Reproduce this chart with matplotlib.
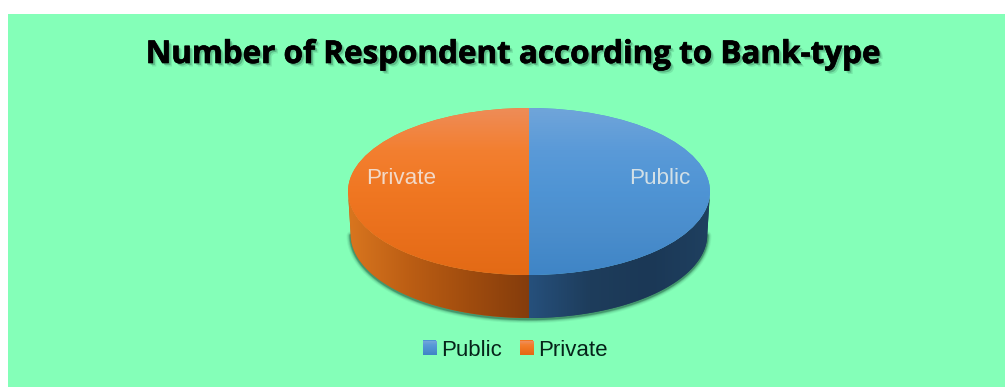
import numpy as np
import matplotlib
matplotlib.use("Agg")
import matplotlib.pyplot as plt
import matplotlib.patheffects as pe
from matplotlib.colors import LinearSegmentedColormap
from matplotlib.patches import PathPatch, Rectangle
from matplotlib.path import Path

W, H = 1005, 387
BG = "#84ffb8"

bank_types = ["Public", "Private"]
respondents = [50, 50]
title_text = "Number of Respondent according to Bank-type"

top_colors = [["#70a5da", "#5a9ad8", "#4f94d4", "#4a8dcc", "#3f85c6"], ["#ee8c58", "#f37f30", "#f07722", "#ea701c", "#e36a15"]]
side_colors = [["#26507c", "#1e3d5c", "#1b3856", "#1f4060"], ["#d9761f", "#bc5e14", "#a04c0e", "#843c0c"]]
DEPTH = 0.515  # height of the disc in y units
INSET = 0.985  # the lower rim is a little narrower than the top


def px_rect(x0, y0, x1, y1):  # pixel box (y from the top) to figure fraction
    return [x0 / W, 1 - y1 / H, (x1 - x0) / W, (y1 - y0) / H]


fig = plt.figure(figsize=(W / 100, H / 100), dpi=100, facecolor="white")
fig.add_artist(Rectangle((8 / W, 0), 1, 1 - 14 / H, transform=fig.transFigure, color=BG, lw=0, zorder=-1))

# one unit is the ellipse radius on each axis
cx, cy, rx, ry = 529, 191.5, 181, 83.5
ax = fig.add_axes(px_rect(cx - 1.25 * rx, cy - 1.25 * ry, cx + 1.25 * rx, cy + 1.75 * ry))
wedges, _ = ax.pie(respondents, startangle=90, counterclock=False, radius=1)
ax.set_aspect("auto")
for w, c in zip(wedges, top_colors):
    w.set_facecolor(c[2])
    w.set_linewidth(0)
    w.set_zorder(5)

# soft shadow under the rim
t = np.radians(np.linspace(180, 360, 200))
rim_x, rim_y = INSET * np.cos(t), np.sin(t) - DEPTH
for lw, alpha in [(6, 0.06), (4.5, 0.1), (3, 0.18), (1.8, 0.3)]:
    ax.plot(rim_x, rim_y - 0.012, color="#0b3a28", lw=lw, alpha=alpha, zorder=1, solid_capstyle="round")

# side wall and top gradients, clipped to each slice
for w, tc, sc in zip(wedges, top_colors, side_colors):
    a0, a1 = w.theta1 % 360, w.theta2 % 360
    if a1 <= a0:
        a1 += 360
    lo, hi = max(a0, 180), min(a1, 360)
    ang = np.radians(np.linspace(lo, hi, 120))
    xs = np.cos(ang)
    ys = np.sin(ang)
    verts = np.r_[np.c_[xs, ys], np.c_[INSET * xs[::-1], ys[::-1] - DEPTH]]
    side = PathPatch(Path(np.r_[verts, verts[:1]]), fc=sc[1], lw=0, zorder=2)
    ax.add_patch(side)
    grad = np.linspace(0, 1, 256)[None, :]
    side_cmap = LinearSegmentedColormap.from_list("side", sc)
    x0, x1 = xs.min(), xs.max()
    im = ax.imshow(grad, cmap=side_cmap, extent=[x0, x1, -1.6, 0], aspect="auto", zorder=3)
    im.set_clip_path(side)

    top_cmap = LinearSegmentedColormap.from_list("top", tc)
    im = ax.imshow(np.linspace(0, 1, 256)[:, None], cmap=top_cmap, extent=[-1, 1, -1, 1], aspect="auto", zorder=6)
    im.set_clip_path(w)

ax.set_xlim(-1.25, 1.25)
ax.set_ylim(-1.75, 1.25)

label_font = {"family": "Liberation Sans", "size": 16.2}
ax.text(0.725, 0.15, bank_types[0], color="#d3e0e6", ha="center", va="center", zorder=8, **label_font)
ax.text(-0.705, 0.15, bank_types[1], color="#f2d9c8", ha="center", va="center", zorder=8, **label_font)

title = fig.text(513 / W, 1 - 55 / H, title_text, ha="center", va="center", color="black",
                 family="Open Sans", weight="bold", size=22.6)
title.set_path_effects([
    pe.SimplePatchShadow(offset=(2.5, -2.5), shadow_rgbFace="#0b3a28", alpha=0.12),
    pe.SimplePatchShadow(offset=(1.5, -1.5), shadow_rgbFace="#0b3a28", alpha=0.25),
    pe.withStroke(linewidth=0.5, foreground="black"),
])

leg = fig.legend(wedges, bank_types, ncol=2, frameon=False, loc="center", bbox_to_anchor=(515 / W, 1 - 350 / H),
                 prop={"family": "Liberation Sans", "size": 16}, labelcolor="#06231a",
                 handlelength=0.62, handleheight=0.62, handletextpad=0.2, columnspacing=0.8)

# gradient swatches over the legend handles
fig.canvas.draw()
for h, tc in zip(leg.legend_handles, top_colors):
    bb = h.get_window_extent()
    n = max(int(round(bb.height)), 1)
    m = max(int(round(bb.width)), 1)
    cmap = LinearSegmentedColormap.from_list("swatch", tc)
    arr = cmap(np.linspace(0, 1, n))[:, None, :].repeat(m, axis=1)
    fig.figimage(arr, xo=int(round(bb.x0)), yo=int(round(bb.y0)), origin="upper", zorder=10)

fig.savefig("out.png", dpi=100)
